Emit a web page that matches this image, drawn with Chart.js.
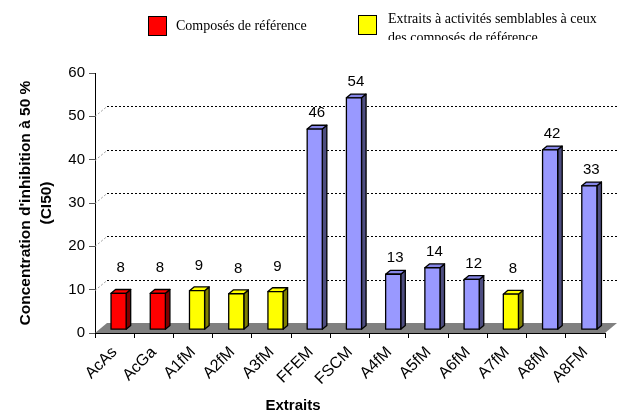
<!DOCTYPE html>
<html><head><meta charset="utf-8">
<script src="https://cdn.jsdelivr.net/npm/chart.js@4/dist/chart.umd.min.js"></script>
<style>
html,body{margin:0;padding:0;background:#fff;}
#wrap{position:relative;width:621px;height:415px;overflow:hidden;}
canvas{position:absolute;left:0;top:0;}
.lg{position:absolute;font-family:"Liberation Serif","Times New Roman",serif;font-size:14px;color:#000;white-space:nowrap;line-height:19px;}
.box{position:absolute;border:1px solid #000;box-sizing:border-box;}
</style></head><body>
<div id="wrap">
<canvas id="c" width="621" height="415"></canvas>
<div class="box" style="left:148px;top:16px;width:19px;height:20px;background:#ff0000"></div>
<div class="lg" style="left:176px;top:16px;">Composés de référence</div>
<div class="box" style="left:358px;top:15px;width:19px;height:20px;background:#ffff00"></div>
<div class="lg" style="left:388px;top:9px;height:31px;overflow:hidden;">Extraits à activités semblables à ceux<br>des composés de référence</div>
</div>
<script>
// ---- data ----
const categories = ['AcAs','AcGa','A1fM','A2fM','A3fM','FFEM','FSCM','A4fM','A5fM','A6fM','A7fM','A8fM','A8FM'];
const ci50Values = [8.4, 8.4, 9.0, 8.3, 8.8, 46.3, 53.5, 12.8, 14.3, 11.6, 8.2, 41.5, 33.2];
const groups = ['ref','ref','sim','sim','sim','other','other','other','other','other','sim','other','other'];
const yTicks = [0, 10, 20, 30, 40, 50, 60];

// ---- styles ----
const palette = {
  ref:   {front:'#ff0000', side:'#800000', top:'#ff0000', labelGap:25},
  sim:   {front:'#ffff00', side:'#808000', top:'#ffff00', labelGap:25},
  other: {front:'#9999ff', side:'#4d4d80', top:'#8585e6', labelGap:16}
};
const DX = 12, DY = -10;      // full depth of the 3D box
const BO = 0.33, BD = 0.38;   // bar depth offset and bar depth fraction

Chart.defaults.font.family = '"Liberation Sans", Arial, sans-serif';
Chart.defaults.color = '#000';

const threeD = {
  id: 'threeD',
  beforeDatasetsDraw(chart) {
    const ctx = chart.ctx, a = chart.chartArea, ys = chart.scales.y;
    const b = ys.getPixelForValue(0);
    ctx.save();
    ctx.fillStyle = '#808080';
    ctx.beginPath();
    ctx.moveTo(a.left, b); ctx.lineTo(a.right, b);
    ctx.lineTo(a.right + DX, b + DY); ctx.lineTo(a.left + DX, b + DY);
    ctx.closePath(); ctx.fill();
    ctx.lineWidth = 1;
    yTicks.forEach(v => {
      if (v === yTicks[0] || v === yTicks[yTicks.length - 1]) return;
      const py = Math.round(ys.getPixelForValue(v)) + 0.5;
      ctx.setLineDash([2, 2]);
      ctx.strokeStyle = '#999';
      ctx.beginPath(); ctx.moveTo(a.left, py); ctx.lineTo(a.left + DX, py + DY); ctx.stroke();
      ctx.strokeStyle = '#000';
      ctx.beginPath(); ctx.moveTo(a.left + DX, py + DY); ctx.lineTo(a.right + DX, py + DY); ctx.stroke();
    });
    ctx.restore();
  },
  beforeDatasetDraw(chart, args) {
    const ctx = chart.ctx;
    const ox = DX * BO, oy = DY * BO, dx = DX * BD, dy = DY * BD;
    ctx.save();
    ctx.lineWidth = 1.3;
    ctx.strokeStyle = '#000';
    ctx.lineJoin = 'round';
    args.meta.data.forEach((bar, i) => {
      const p = bar.getProps(['x', 'y', 'base', 'width'], true);
      const pal = palette[groups[i]];
      const x0 = p.x - p.width / 2 + ox, x1 = p.x + p.width / 2 + ox;
      const y0 = p.y + oy, y1 = p.base + oy;
      ctx.fillStyle = pal.side;
      ctx.beginPath();
      ctx.moveTo(x1, y0); ctx.lineTo(x1 + dx, y0 + dy); ctx.lineTo(x1 + dx, y1 + dy); ctx.lineTo(x1, y1);
      ctx.closePath(); ctx.fill(); ctx.stroke();
      ctx.fillStyle = pal.top;
      ctx.beginPath();
      ctx.moveTo(x0, y0); ctx.lineTo(x1, y0); ctx.lineTo(x1 + dx, y0 + dy); ctx.lineTo(x0 + dx, y0 + dy);
      ctx.closePath(); ctx.fill(); ctx.stroke();
      ctx.fillStyle = pal.front;
      ctx.fillRect(x0, y0, x1 - x0, y1 - y0);
      ctx.strokeRect(x0, y0, x1 - x0, y1 - y0);
      ctx.fillStyle = '#000';
      ctx.font = '15px "Liberation Sans", Arial, sans-serif';
      ctx.textAlign = 'center';
      ctx.textBaseline = 'middle';
      ctx.fillText(String(Math.round(ci50Values[i])), (x0 + x1) / 2 + 2, y0 - pal.labelGap);
    });
    ctx.restore();
    return false;
  },
  afterDraw(chart) {
    const ctx = chart.ctx;
    ctx.save();
    ctx.fillStyle = '#000';
    ctx.font = 'bold 15px "Liberation Sans", Arial, sans-serif';
    ctx.textAlign = 'center';
    ctx.textBaseline = 'middle';
    ctx.fillText('Extraits', 293, 406);
    ctx.restore();
  }
};

new Chart(document.getElementById('c'), {
  type: 'bar',
  data: {
    labels: categories,
    datasets: [{
      label: 'CI50',
      data: ci50Values,
      backgroundColor: groups.map(g => palette[g].front),
      categoryPercentage: 1,
      barPercentage: 0.385
    }]
  },
  options: {
    responsive: false,
    animation: false,
    devicePixelRatio: 1,
    layout: {padding: {left: 0, right: 16, top: 73, bottom: 0}},
    plugins: {legend: {display: false}, tooltip: {enabled: false}},
    scales: {
      x: {
        z: 1,
        grid: {drawOnChartArea: false, offset: true, tickLength: 5, color: '#000'},
        border: {color: '#000'},
        ticks: {autoSkip: false, minRotation: 45, maxRotation: 45, padding: 5, font: {size: 16}, color: '#000'},
        afterFit(s) { s.height = 82; }
      },
      y: {
        z: 1,
        min: 0, max: 60,
        grid: {drawOnChartArea: false, tickLength: 6, color: '#555'},
        border: {color: '#000'},
        ticks: {stepSize: 10, padding: 4, font: {size: 15}, color: '#000'},
        title: {
          display: true,
          text: ["Concentration d'inhibition à 50 %", '(CI50)'],
          font: {size: 15.5, weight: 'bold', lineHeight: 1.38},
          padding: {top: 15, bottom: 0}
        },
        afterFit(s) { s.width = 95; }
      }
    }
  },
  plugins: [threeD]
});
</script>
</body></html>
